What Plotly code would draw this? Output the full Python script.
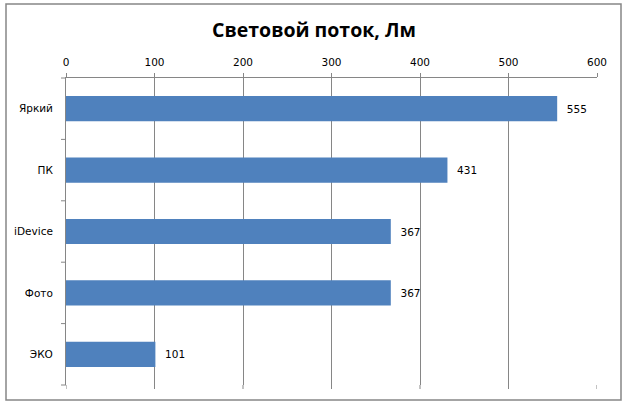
import plotly.graph_objects as go

categories = ["Яркий", "ПК", "iDevice", "Фото", "ЭКО"]
values = [555, 431, 367, 367, 101]
tick_vals = [0, 100, 200, 300, 400, 500, 600]

W, H = 628, 406
L, R, T, B = 66, 597, 78, 385  # plot area in pixels
pw, ph = R - L, B - T

def px_x(x):
    return (x - L) / pw

def px_y(y):
    return (B - y) / ph

fig = go.Figure()
fig.add_trace(go.Bar(
    y=categories, x=values, orientation="h",
    marker=dict(color="#4F81BD", line=dict(width=0)),
    width=0.41,
    text=["  " + str(v) for v in values], textposition="outside",
    textfont=dict(family="DejaVu Sans", size=10.5, color="black"),
    cliponaxis=False,
))

fig.update_layout(
    width=W, height=H,
    margin=dict(l=L, r=W - R, t=T, b=H - B),
    paper_bgcolor="white", plot_bgcolor="white",
    showlegend=False,
    title=dict(text="<b>Световой поток, Лм</b>", x=0.5, xanchor="center",
               y=1 - 30 / H, yanchor="middle",
               font=dict(family="Open Sans", size=19.5, color="black")),
    xaxis=dict(side="top", range=[0, 600], tickvals=tick_vals,
               showgrid=True, gridcolor="#868686", gridwidth=1,
               showline=True, linecolor="#868686", linewidth=1,
               ticks="outside", ticklen=4, tickcolor="#868686",
               zeroline=False, ticklabelstandoff=3,
               tickfont=dict(family="DejaVu Sans", size=10.5, color="black")),
    yaxis=dict(autorange="reversed", showline=True, linecolor="#868686",
               linewidth=1, ticks="", showgrid=False, zeroline=False,
               ticksuffix="   ",
               tickfont=dict(family="DejaVu Sans", size=10.5, color="black")),
    bargap=0.59,
)

# category boundary tick marks on the left axis
n = len(categories)
for i in range(n + 1):
    yy = i / n
    fig.add_shape(type="line", xref="paper", yref="paper",
                  x0=px_x(L - 5), x1=0, y0=yy, y1=yy,
                  line=dict(color="#868686", width=1))
# gridlines extending slightly below the plot
for v in tick_vals:
    fig.add_shape(type="line", xref="x", yref="paper",
                  x0=v, x1=v, y0=0, y1=px_y(B + 4),
                  line=dict(color="#868686", width=1))

# outer chart border
fig.add_shape(type="rect", xref="paper", yref="paper",
              x0=px_x(6), x1=px_x(621), y0=px_y(400), y1=px_y(4),
              line=dict(color="#868686", width=1.5))

fig.write_html("out.html", config={"displayModeBar": False},
               post_script="document.body.style.margin='0';")
